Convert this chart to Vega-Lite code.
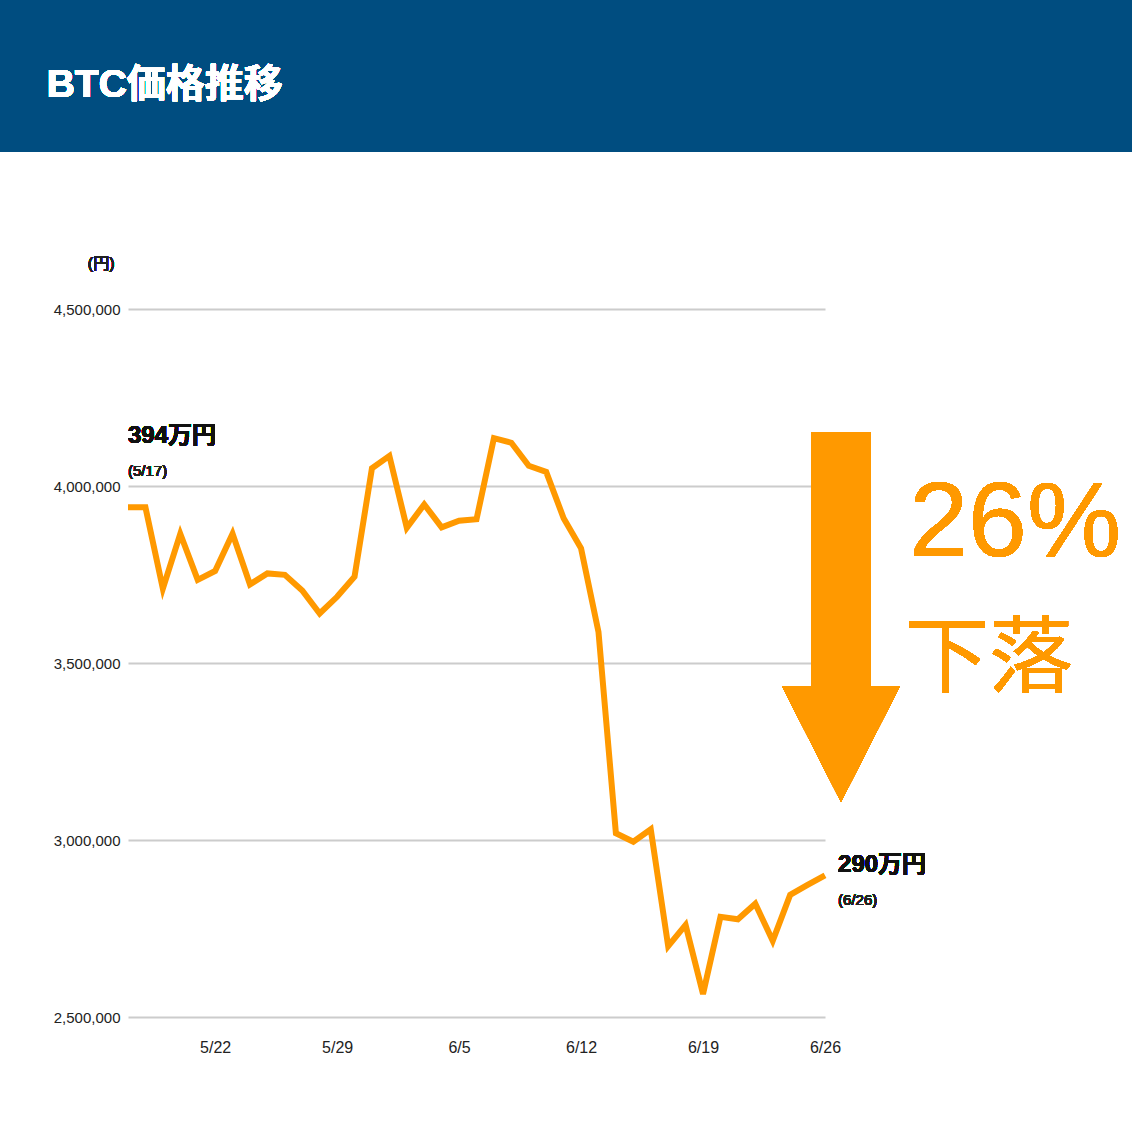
{
  "$schema": "https://vega.github.io/schema/vega-lite/v6.json",
  "width": 697,
  "height": 708,
  "autosize": {"type": "none"},
  "padding": {"left": 128, "top": 309, "right": 307, "bottom": 115},
  "background": "white",
  "config": {
    "view": {"stroke": null},
    "font": "Liberation Sans, Noto Sans CJK JP"
  },
  "data": {
    "values": [
      {"date": "2022-05-17", "price": 3940000},
      {"date": "2022-05-18", "price": 3940000},
      {"date": "2022-05-19", "price": 3710000},
      {"date": "2022-05-20", "price": 3865000},
      {"date": "2022-05-21", "price": 3735000},
      {"date": "2022-05-22", "price": 3760000},
      {"date": "2022-05-23", "price": 3865000},
      {"date": "2022-05-24", "price": 3722000},
      {"date": "2022-05-25", "price": 3753000},
      {"date": "2022-05-26", "price": 3749000},
      {"date": "2022-05-27", "price": 3705000},
      {"date": "2022-05-28", "price": 3640000},
      {"date": "2022-05-29", "price": 3687000},
      {"date": "2022-05-30", "price": 3744000},
      {"date": "2022-05-31", "price": 4050000},
      {"date": "2022-06-01", "price": 4085000},
      {"date": "2022-06-02", "price": 3882000},
      {"date": "2022-06-03", "price": 3948000},
      {"date": "2022-06-04", "price": 3883000},
      {"date": "2022-06-05", "price": 3902000},
      {"date": "2022-06-06", "price": 3906000},
      {"date": "2022-06-07", "price": 4135000},
      {"date": "2022-06-08", "price": 4122000},
      {"date": "2022-06-09", "price": 4057000},
      {"date": "2022-06-10", "price": 4040000},
      {"date": "2022-06-11", "price": 3909000},
      {"date": "2022-06-12", "price": 3824000},
      {"date": "2022-06-13", "price": 3588000},
      {"date": "2022-06-14", "price": 3019000},
      {"date": "2022-06-15", "price": 2995000},
      {"date": "2022-06-16", "price": 3030000},
      {"date": "2022-06-17", "price": 2700000},
      {"date": "2022-06-18", "price": 2760000},
      {"date": "2022-06-19", "price": 2565000},
      {"date": "2022-06-20", "price": 2783000},
      {"date": "2022-06-21", "price": 2776000},
      {"date": "2022-06-22", "price": 2820000},
      {"date": "2022-06-23", "price": 2715000},
      {"date": "2022-06-24", "price": 2845000},
      {"date": "2022-06-25", "price": 2873000},
      {"date": "2022-06-26", "price": 2900000}
    ]
  },
  "layer": [
    {
      "mark": {"type": "rect", "color": "#004d80"},
      "encoding": {
        "x": {"datum": {"year": 2022, "month": 5, "date": 1, "utc": true}, "type": "temporal"},
        "x2": {"datum": {"year": 2022, "month": 7, "date": 31, "utc": true}},
        "y": {"datum": 5500000, "type": "quantitative"},
        "y2": {"datum": 4943500}
      }
    },
    {
      "mark": {"type": "text", "text": "BTC価格推移", "color": "white", "fontSize": 39, "fontWeight": "bold", "align": "left", "baseline": "alphabetic"},
      "encoding": {
        "x": {"datum": {"year": 2022, "month": 5, "date": 12, "hours": 8, "utc": true}, "type": "temporal"},
        "y": {"datum": 5100000, "type": "quantitative"}
      }
    },
    {
      "mark": {"type": "text", "text": "(円)", "color": "#222222", "fontSize": 16, "align": "center", "baseline": "alphabetic"},
      "encoding": {
        "x": {"datum": {"year": 2022, "month": 5, "date": 15, "hours": 11, "utc": true}, "type": "temporal"},
        "y": {"datum": 4612000, "type": "quantitative"}
      }
    },
    {
      "mark": {"type": "line", "color": "#ff9900", "strokeWidth": 6, "strokeJoin": "miter", "strokeCap": "butt"},
      "encoding": {
        "x": {
          "field": "date",
          "type": "temporal",
          "scale": {
            "type": "utc",
            "domain": [
              {"year": 2022, "month": 5, "date": 17, "utc": true},
              {"year": 2022, "month": 6, "date": 26, "utc": true}
            ]
          },
          "axis": {
            "title": null,
            "format": "%-m/%-d",
            "values": [
              {"year": 2022, "month": 5, "date": 22, "utc": true},
              {"year": 2022, "month": 5, "date": 29, "utc": true},
              {"year": 2022, "month": 6, "date": 5, "utc": true},
              {"year": 2022, "month": 6, "date": 12, "utc": true},
              {"year": 2022, "month": 6, "date": 19, "utc": true},
              {"year": 2022, "month": 6, "date": 26, "utc": true}
            ],
            "domain": false,
            "ticks": false,
            "grid": false,
            "labelFontSize": 16,
            "labelColor": "#222222",
            "labelPadding": 22,
            "labelFlush": false
          }
        },
        "y": {
          "field": "price",
          "type": "quantitative",
          "scale": {"domain": [2500000, 4500000], "nice": false, "zero": false},
          "axis": {
            "title": null,
            "format": ",d",
            "values": [2500000, 3000000, 3500000, 4000000, 4500000],
            "domain": false,
            "ticks": false,
            "grid": true,
            "gridColor": "#cccccc",
            "gridWidth": 2,
            "labelFontSize": 15,
            "labelColor": "#222222",
            "labelPadding": 8
          }
        }
      }
    },
    {
      "mark": {"type": "text", "text": "394万円", "color": "#111111", "fontSize": 24, "fontWeight": "bold", "align": "left", "baseline": "alphabetic"},
      "encoding": {
        "x": {"datum": {"year": 2022, "month": 5, "date": 17, "utc": true}, "type": "temporal"},
        "y": {"datum": 4122000, "type": "quantitative"}
      }
    },
    {
      "mark": {"type": "text", "text": "(5/17)", "color": "#222222", "fontSize": 15, "align": "left", "baseline": "alphabetic"},
      "encoding": {
        "x": {"datum": {"year": 2022, "month": 5, "date": 17, "utc": true}, "type": "temporal"},
        "y": {"datum": 4028000, "type": "quantitative"}
      }
    },
    {
      "mark": {"type": "text", "text": "290万円", "color": "#111111", "fontSize": 24, "fontWeight": "bold", "align": "left", "baseline": "alphabetic"},
      "encoding": {
        "x": {"datum": {"year": 2022, "month": 6, "date": 26, "hours": 18, "utc": true}, "type": "temporal"},
        "y": {"datum": 2910000, "type": "quantitative"}
      }
    },
    {
      "mark": {"type": "text", "text": "(6/26)", "color": "#222222", "fontSize": 15, "align": "left", "baseline": "alphabetic"},
      "encoding": {
        "x": {"datum": {"year": 2022, "month": 6, "date": 26, "hours": 18, "utc": true}, "type": "temporal"},
        "y": {"datum": 2815000, "type": "quantitative"}
      }
    },
    {
      "mark": {
        "type": "point",
        "shape": "M-0.162,-1L0.162,-1L0.162,0.373L0.319,0.373L0,1L-0.319,0.373L-0.162,0.373Z",
        "filled": true,
        "color": "#ff9900",
        "opacity": 1,
        "size": 136900,
        "strokeWidth": 0
      },
      "encoding": {
        "x": {"datum": {"year": 2022, "month": 6, "date": 26, "hours": 22, "utc": true}, "type": "temporal"},
        "y": {"datum": 3630000, "type": "quantitative"}
      }
    },
    {
      "mark": {"type": "text", "text": "26%", "color": "#ff9900", "fontSize": 106, "align": "center", "baseline": "alphabetic"},
      "encoding": {
        "x": {"datum": {"year": 2022, "month": 7, "date": 6, "hours": 22, "utc": true}, "type": "temporal"},
        "y": {"datum": 3802000, "type": "quantitative"}
      }
    },
    {
      "mark": {"type": "text", "text": "下落", "color": "#ff9900", "fontSize": 84, "font": "Noto Sans CJK JP", "align": "center", "baseline": "middle"},
      "encoding": {
        "x": {"datum": {"year": 2022, "month": 7, "date": 5, "hours": 10, "utc": true}, "type": "temporal"},
        "y": {"datum": 3505000, "type": "quantitative"}
      }
    }
  ]
}
